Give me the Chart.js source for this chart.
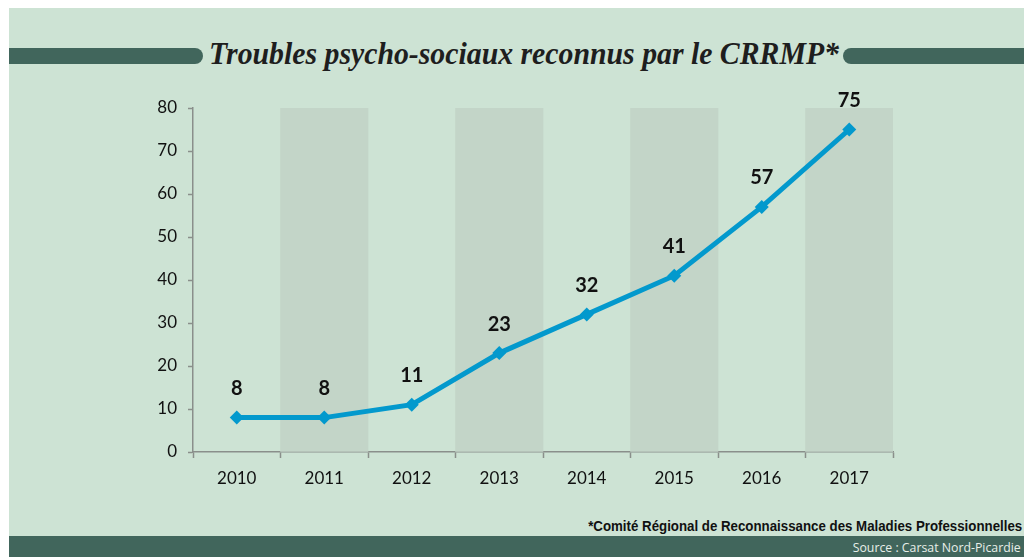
<!DOCTYPE html>
<html>
<head>
<meta charset="utf-8">
<script src="https://cdn.jsdelivr.net/npm/chart.js@4/dist/chart.umd.min.js"></script>
<style>
  html, body { margin:0; padding:0; background:#ffffff; width:1024px; height:557px; overflow:hidden; }
  #bg { position:absolute; left:9px; top:8px; width:1015px; height:549px; background:#cde3d4; }
  .bar { position:absolute; top:48px; height:16px; background:#41665c; }
  #barL { left:9px; width:194px; border-radius:0 8px 8px 0; }
  #barR { left:843px; width:181px; border-radius:8px 0 0 8px; }
  #title { position:absolute; left:209px; top:36px; height:36px; white-space:nowrap; transform-origin:0 50%;
           font-family:"Liberation Serif", serif; font-style:italic; font-weight:bold; font-size:31px; color:#1e1e1e; line-height:36px; }
  #foot { position:absolute; right:2px; top:517px; transform-origin:100% 50%; font-family:"Liberation Sans", Arial, sans-serif; font-weight:bold; font-size:15px; color:#111; white-space:nowrap; }
  #band { position:absolute; left:9px; top:536px; width:1015px; height:21px; background:#41665c; }
  #src { position:absolute; right:3px; top:539px; font-family:"Open Sans", sans-serif; font-size:12.5px; color:#e8efe9; white-space:nowrap; transform-origin:100% 50%; }
  #wrap { position:absolute; left:0; top:0; width:1024px; height:557px; }
</style>
</head>
<body>
<div id="bg"></div>
<div class="bar" id="barL"></div>
<div class="bar" id="barR"></div>
<div id="title">Troubles psycho-sociaux reconnus par le CRRMP*</div>
<div id="band"></div>
<div id="foot">*Comité Régional de Reconnaissance des Maladies Professionnelles</div>
<div id="src">Source : Carsat Nord-Picardie</div>
<div id="wrap"><canvas id="c" width="1024" height="557"></canvas></div>
<script>
const years = ['2010','2011','2012','2013','2014','2015','2016','2017'];
const values = [8, 8, 11, 23, 32, 41, 57, 75];
const shadedBands = [null, 80, null, 80, null, 80, null, 80];
const yTicks = [0, 10, 20, 30, 40, 50, 60, 70, 80];

function fitWidth(id, w) {
  const el = document.getElementById(id);
  const cur = el.getBoundingClientRect().width;
  if (cur > 0) el.style.transform = 'scaleX(' + (w / cur) + ')';
}
fitWidth('title', 630);
fitWidth('foot', 434);
fitWidth('src', 168);

const labelPlugin = {
  id: 'pointLabels',
  afterDatasetsDraw(chart) {
    const ctx = chart.ctx;
    const meta = chart.getDatasetMeta(1);
    ctx.save();
    ctx.font = 'bold 20px Lato, "Liberation Sans", Arial, sans-serif';
    ctx.fillStyle = '#111';
    ctx.textAlign = 'center';
    ctx.textBaseline = 'middle';
    meta.data.forEach((pt, i) => {
      ctx.fillText(String(values[i]), pt.x, pt.y - 29);
    });
    ctx.restore();
  }
};

new Chart(document.getElementById('c'), {
  data: {
    labels: years,
    datasets: [
      {
        type: 'bar',
        data: shadedBands,
        backgroundColor: '#c3d5c8',
        barPercentage: 1.0,
        categoryPercentage: 1.0,
        borderWidth: 0,
        order: 2
      },
      {
        type: 'line',
        data: values,
        borderColor: '#0399cd',
        backgroundColor: '#0399cd',
        borderWidth: 5,
        pointStyle: 'rectRot',
        pointRadius: 7,
        pointHoverRadius: 7,
        pointBorderWidth: 0,
        tension: 0,
        order: 1
      }
    ]
  },
  options: {
    responsive: false,
    animation: false,
    events: [],
    layout: { padding: { left: 0, right: 131, top: 108, bottom: 0 } },
    plugins: { legend: { display: false }, tooltip: { enabled: false } },
    scales: {
      x: {
        type: 'category',
        offset: true,
        grid: { offset: true, drawOnChartArea: false, drawTicks: true, tickLength: 6, color: '#8a8f8b', tickWidth: 1.5 },
        border: { display: true, color: '#8a8f8b', width: 1.5 },
        ticks: { color: '#111', font: { family: 'Lato, "Open Sans", sans-serif', size: 17 }, padding: 10 },
        afterFit(s) { s.height = 105; }
      },
      y: {
        min: 0, max: 80,
        afterBuildTicks(s) { s.ticks = yTicks.map(v => ({ value: v })); },
        grid: { drawOnChartArea: false, drawTicks: true, tickLength: 5, color: '#8a8f8b', tickWidth: 1.5 },
        border: { display: true, color: '#8a8f8b', width: 1.5 },
        ticks: { color: '#111', font: { family: 'Lato, "Open Sans", sans-serif', size: 17 }, padding: 11 },
        afterFit(s) { s.width = 193; }
      }
    }
  },
  plugins: [labelPlugin]
});
</script>
</body>
</html>
